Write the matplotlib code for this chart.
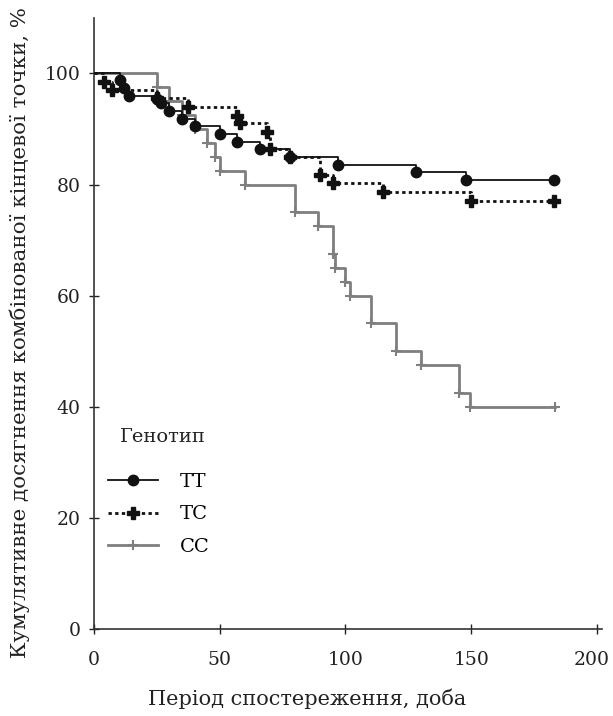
import matplotlib
matplotlib.use("Agg")
import matplotlib.pyplot as plt
import matplotlib.transforms as mtransforms

plt.rcParams['font.family'] = ['DejaVu Serif']

# Kaplan-Meier style data (time in days, cumulative %)
tt_t = [0, 10.5, 12, 14, 25, 26.5, 30, 35, 40, 50, 57, 66, 78, 97, 128, 148, 183]
tt_y = [100, 98.8, 97.4, 95.9, 95.4, 94.7, 93.2, 91.8, 90.5, 89.1, 87.7, 86.4, 85.0, 83.6, 82.3, 80.9, 80.9]

tc_t = [0, 4, 7, 25, 37.5, 57, 58, 69, 70, 78, 90, 95, 115, 150, 183]
tc_y = [100, 98.5, 97.0, 95.5, 94.0, 92.4, 91.0, 89.5, 86.4, 85.0, 81.8, 80.3, 78.6, 77.0, 77.0]

cc_t = [0, 25, 30, 35, 40, 45, 48, 50, 60, 80, 89, 95, 96, 100, 102, 110, 120, 130, 145, 149.5, 183.5]
cc_y = [100, 97.5, 95, 92.5, 90, 87.5, 85, 82.5, 80, 75, 72.5, 67.5, 65, 62.5, 60, 55, 50, 47.5, 42.5, 40, 40]

labels = ['TT', 'TC', 'CC']
x_ticks = [0, 50, 100, 150, 200]
y_ticks = [0, 20, 40, 60, 80, 100]

fig = plt.figure(figsize=(6.13, 7.16), dpi=100)
ax = fig.add_axes([0.1533, 0.1215, 0.8287, 0.8535])

gray = '#7f7f7f'
dark = '#111111'
# CC
ax.plot(cc_t, cc_y, drawstyle='steps-post', color=gray, lw=2.0, zorder=2)
ax.plot(cc_t[1:], cc_y[1:], ls='none', marker='+', color=gray, ms=7, mew=1.5, zorder=2)
# TC
ax.plot(tc_t, tc_y, drawstyle='steps-post', color=dark, lw=2.0, ls=(0, (1.2, 1.2)), zorder=3)
ax.plot(tc_t[1:], tc_y[1:], ls='none', marker='P', color=dark, ms=8, zorder=3)
# TT
ax.plot(tt_t, tt_y, drawstyle='steps-post', color=dark, lw=1.3, zorder=4)
ax.plot(tt_t[1:], tt_y[1:], ls='none', marker='o', color=dark, ms=7.5, zorder=4)

# legend handles
h_tt, = ax.plot([], [], color=dark, lw=1.3, marker='o', ms=7.5)
h_tc, = ax.plot([], [], color=dark, lw=2.0, ls=(0, (1.2, 1.2)), marker='P', ms=8)
h_cc, = ax.plot([], [], color=gray, lw=2.0, marker='+', ms=7, mew=1.5)
leg = ax.legend([h_tt, h_tc, h_cc], labels, loc='upper left',
                bbox_to_anchor=(0.0, 0.278), frameon=False, fontsize=14,
                handlelength=2.6, handletextpad=1.1, labelspacing=0.75,
                borderaxespad=0.3, numpoints=1)
ax.text(0.052, 0.315, 'Генотип', transform=ax.transAxes, fontsize=14,
        ha='left', va='center', color='#222222')

ax.set_xlim(0, 202)
ax.set_ylim(0, 110)
ax.set_xticks(x_ticks)
ax.set_yticks(y_ticks)
for s in ['top', 'right']:
    ax.spines[s].set_visible(False)
for s in ['left', 'bottom']:
    ax.spines[s].set_color('#333333')
    ax.spines[s].set_linewidth(1.2)
ax.tick_params(direction='inout', length=7, width=1.0, labelsize=13.5, colors='#222222')
ax.tick_params(axis='x', pad=12)
ax.tick_params(axis='y', pad=6)
fig.canvas.draw()
shift = mtransforms.ScaledTranslation(-5 / 100, 0, fig.dpi_scale_trans)
for lbl in ax.get_xticklabels():
    if lbl.get_text() == '200':
        lbl.set_transform(lbl.get_transform() + shift)

ax.set_xlabel('Період спостереження, доба', fontsize=15, color='#222222')
ax.set_ylabel('Кумулятивне досягнення комбінованої кінцевої точки, %', fontsize=15.4,
              color='#222222')
ax.xaxis.set_label_coords(0.42, -0.097)
ax.yaxis.set_label_coords(-0.125, 0.485)

fig.savefig('out.png', dpi=100)
